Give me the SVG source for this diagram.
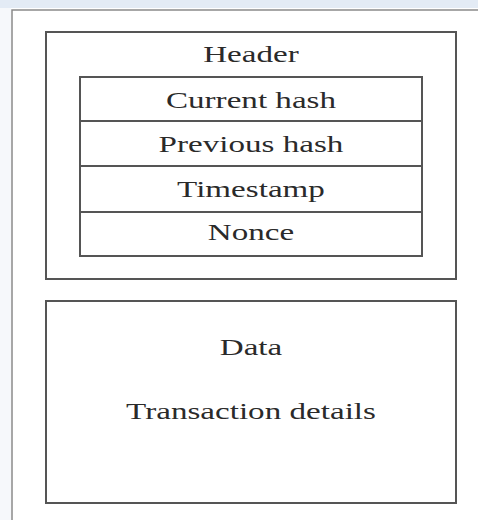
<svg xmlns="http://www.w3.org/2000/svg" width="478" height="520" viewBox="0 0 478 520">
  <style>
    .box { fill: none; stroke: #555; stroke-width: 2; }
    .frame { fill: none; stroke: #8a8a8a; stroke-width: 1.5; }
    .t { font-family: "Liberation Serif", "Times New Roman", serif; font-size: 23px; fill: #2a2a2a; text-anchor: middle; }
  </style>
  <rect x="0" y="0" width="478" height="520" fill="#ffffff"/>
  <rect x="0" y="0" width="478" height="8" fill="#e3ebf5"/>
  <rect x="0" y="8" width="11" height="512" fill="#f6f8fb"/>
  <path class="frame" d="M12,520 V10 H478"/>

  <g id="header">
    <rect class="box" x="46" y="32" width="410" height="247"/>
    <text class="t" transform="translate(251,62) scale(1.44,1)">Header</text>
  </g>
  <g id="header-fields">
    <rect class="box" x="80" y="77" width="342" height="179"/>
    <line class="box" x1="80" y1="121" x2="422" y2="121"/>
    <line class="box" x1="80" y1="166" x2="422" y2="166"/>
    <line class="box" x1="80" y1="212" x2="422" y2="212"/>
  </g>
  <g id="current-hash">
    <text class="t" transform="translate(251,108) scale(1.44,1)">Current hash</text>
  </g>
  <g id="previous-hash">
    <text class="t" transform="translate(251,152) scale(1.44,1)">Previous hash</text>
  </g>
  <g id="timestamp">
    <text class="t" transform="translate(251,197) scale(1.44,1)">Timestamp</text>
  </g>
  <g id="nonce">
    <text class="t" transform="translate(251,240) scale(1.44,1)">Nonce</text>
  </g>
  <g id="data">
    <rect class="box" x="46" y="301" width="410" height="202"/>
    <text class="t" transform="translate(251,355) scale(1.44,1)">Data</text>
    <text class="t" transform="translate(251,419) scale(1.44,1)">Transaction details</text>
  </g>
  <g id="connectors"></g>
</svg>
